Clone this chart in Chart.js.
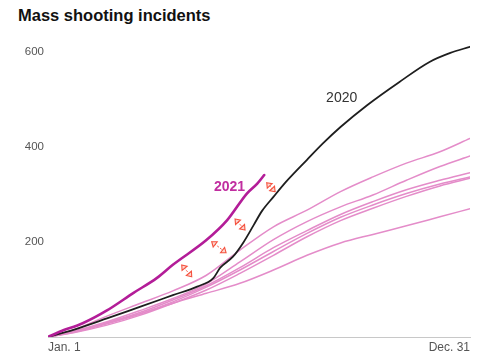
<!DOCTYPE html>
<html>
<head>
<meta charset="utf-8">
<script src="https://cdn.jsdelivr.net/npm/chart.js@4"></script>
<style>
  body { margin: 0; background: #fff; }
  #wrap { position: relative; width: 500px; height: 359px; }
  #title {
    position: absolute; left: 18px; top: 6px;
    font: bold 16.5px "Liberation Sans", Arial, sans-serif; color: #111;
  }
  canvas { position: absolute; left: 0; top: 0; }
</style>
</head>
<body>
<div id="wrap">
  <div id="title">Mass shooting incidents</div>
  <canvas id="chart" width="500" height="359"></canvas>
</div>
<script>
// day of year (0 = Jan. 1, 365 = Dec. 31)
const xTickLabels = ['Jan. 1', 'Dec. 31'];
const xTicks = [0, 365];
const yTicks = [200, 400, 600];

// earlier years, sampled about monthly
const pastDays = [0, 22, 51, 80, 108, 137, 166, 195, 224, 253, 281, 310, 339, 365];
const y2014 = [0, 11, 29, 49, 71, 92, 113, 141, 172, 198, 216, 234, 253, 270];
const y2015 = [0, 9, 25, 46, 71, 99, 134, 172, 211, 245, 271, 296, 318, 334];
const y2016 = [0, 12, 32, 56, 81, 112, 158, 205, 243, 274, 299, 330, 359, 381];
const y2017 = [0, 11, 30, 52, 78, 108, 146, 188, 224, 258, 285, 310, 330, 346];
const y2018 = [0, 10, 28, 49, 74, 105, 141, 180, 218, 252, 278, 302, 322, 337];
const y2019 = [0, 15, 44, 71, 97, 130, 183, 232, 267, 306, 337, 366, 390, 418];

const days2020 = [0, 22, 51, 80, 108, 129, 143, 149, 160, 169, 178, 185, 195, 206, 224, 238, 253, 276, 304, 330, 348, 365];
const vals2020 = [0, 15, 39, 64, 88, 106, 124, 146, 169, 199, 236, 265, 295, 327, 373, 408, 442, 488, 537, 579, 598, 611];

const days2021 = [0, 10, 30, 51, 74, 94, 108, 137, 155, 172, 181, 187];
const vals2021 = [0, 11, 29, 56, 93, 124, 152, 204, 246, 302, 323, 341];

// gap arrows between 2021 and 2020: [day, value, day, value]
const gapArrows = [
  [115.7, 151.6, 124.3, 126.9],
  [141.6, 200.6, 154.0, 177.5],
  [161.8, 248.4, 170.4, 225.3],
  [189.2, 324.8, 196.4, 305.9]
];

const lineLabels = [
  { text: '2020', day: 254, value: 503, color: '#333', font: '14px "Liberation Sans", Arial, sans-serif' },
  { text: '2021', day: 157, value: 316, color: '#c12ea0', font: 'bold 14px "Liberation Sans", Arial, sans-serif' }
];

function pts(days, vals) {
  return days.map((d, i) => ({ x: d, y: vals[i] }));
}

const PINK = '#e48cc9';

function pastSet(label, vals) {
  return { label, data: pts(pastDays, vals), borderColor: PINK, borderWidth: 1.5, order: 3 };
}

const annotate = {
  id: 'annotate',
  afterDatasetsDraw(chart) {
    const { ctx, scales: { x, y } } = chart;
    ctx.save();
    // arrows
    gapArrows.forEach(a => {
      const x1 = x.getPixelForValue(a[0]), y1 = y.getPixelForValue(a[1]);
      const x2 = x.getPixelForValue(a[2]), y2 = y.getPixelForValue(a[3]);
      ctx.strokeStyle = '#f5523f';
      ctx.lineWidth = 1;
      ctx.setLineDash([2, 1.5]);
      ctx.beginPath(); ctx.moveTo(x1, y1); ctx.lineTo(x2, y2); ctx.stroke();
      ctx.setLineDash([]);
      drawHead(ctx, x2, y2, x1, y1);
      drawHead(ctx, x1, y1, x2, y2);
    });
    // line labels
    ctx.textAlign = 'center';
    ctx.textBaseline = 'middle';
    lineLabels.forEach(l => {
      ctx.font = l.font;
      ctx.fillStyle = l.color;
      ctx.fillText(l.text, x.getPixelForValue(l.day), y.getPixelForValue(l.value));
    });
    ctx.restore();
  }
};

function drawHead(ctx, fx, fy, tx, ty) {
  // arrowhead at (tx,ty) pointing away from (fx,fy)
  const ang = Math.atan2(ty - fy, tx - fx);
  const len = 5.5, w = 0.65;
  ctx.beginPath();
  ctx.moveTo(tx, ty);
  ctx.lineTo(tx - len * Math.cos(ang - w), ty - len * Math.sin(ang - w));
  ctx.lineTo(tx - len * Math.cos(ang + w), ty - len * Math.sin(ang + w));
  ctx.closePath();
  ctx.fillStyle = '#fdd6cf';
  ctx.fill();
  ctx.strokeStyle = '#f5523f';
  ctx.lineWidth = 1.1;
  ctx.stroke();
}

new Chart(document.getElementById('chart'), {
  type: 'line',
  data: {
    datasets: [
      pastSet('2014', y2014),
      pastSet('2015', y2015),
      pastSet('2016', y2016),
      pastSet('2017', y2017),
      pastSet('2018', y2018),
      pastSet('2019', y2019),
      { label: '2020', data: pts(days2020, vals2020), borderColor: '#1e1e1e', borderWidth: 1.8, order: 2 },
      { label: '2021', data: pts(days2021, vals2021), borderColor: '#b31d98', borderWidth: 2.6, order: 1 }
    ]
  },
  options: {
    responsive: false,
    animation: false,
    layout: { padding: { top: 33, right: 30, left: 0, bottom: 0 } },
    elements: {
      point: { radius: 0 },
      line: { cubicInterpolationMode: 'monotone', borderCapStyle: 'round', borderJoinStyle: 'round' }
    },
    plugins: { legend: { display: false }, tooltip: { enabled: false } },
    scales: {
      x: {
        type: 'linear', min: 0, max: 365,
        afterBuildTicks: s => { s.ticks = xTicks.map(v => ({ value: v })); },
        afterFit: s => { s.height = 22; },
        grid: { display: false, drawTicks: false },
        border: { display: true, color: '#c8c8c8', width: 1 },
        ticks: {
          align: 'inner', padding: 3, color: '#555',
          font: { family: '"Liberation Sans", Arial, sans-serif', size: 12 },
          callback: v => xTickLabels[xTicks.indexOf(v)]
        }
      },
      y: {
        min: 0, max: 640,
        afterBuildTicks: s => { s.ticks = yTicks.map(v => ({ value: v })); },
        afterFit: s => { s.width = 48; },
        grid: { display: false, drawTicks: false },
        border: { display: false },
        ticks: {
          padding: 4, color: '#555',
          font: { family: '"Liberation Sans", Arial, sans-serif', size: 11.5 }
        }
      }
    }
  },
  plugins: [annotate]
});
</script>
</body>
</html>
